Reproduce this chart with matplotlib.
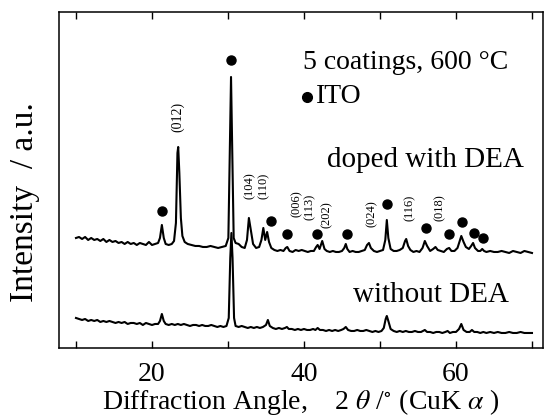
import matplotlib
matplotlib.use("Agg")
import matplotlib.pyplot as plt

plt.rcParams['font.family'] = ['Liberation Serif', 'DejaVu Serif']
plt.rcParams['mathtext.fontset'] = 'stix'

# Curva superior: dopada con DEA (2theta, intensidad a.u.)
x_doped = [10.0, 10.4, 10.8, 11.2, 11.6, 12.0, 12.4, 12.8, 13.2, 13.6, 14.0, 14.4, 14.8, 15.2, 15.6,
           16.0, 16.4, 16.8, 17.2, 17.6, 18.0, 18.4, 18.8, 19.2, 19.6, 20.0, 20.4, 20.8, 21.05, 21.3,
           21.55, 21.8, 22.2, 22.6, 22.9, 23.15, 23.35, 23.45, 23.6, 23.8, 24.0, 24.3, 24.7, 25.2, 25.7,
           26.2, 26.7, 27.2, 27.7, 28.2, 28.7, 29.2, 29.7, 30.05, 30.25, 30.4, 30.55, 30.75, 31.0, 31.4,
           31.8, 32.2, 32.5, 32.75, 33.0, 33.3, 33.7, 34.1, 34.4, 34.65, 34.9, 35.15, 35.4, 35.7, 36.1,
           36.5, 36.9, 37.3, 37.6, 37.8, 38.1, 38.5, 38.9, 39.3, 39.7, 40.1, 40.5, 40.9, 41.3, 41.6,
           41.8, 42.05, 42.4, 42.7, 43.0, 43.4, 43.8, 44.2, 44.6, 45.0, 45.3, 45.5, 45.7, 46.0, 46.4,
           46.8, 47.2, 47.6, 48.0, 48.3, 48.55, 48.8, 49.2, 49.6, 50.0, 50.4, 50.7, 50.9, 51.1, 51.4,
           51.8, 52.2, 52.6, 53.0, 53.3, 53.45, 53.7, 54.0, 54.4, 54.8, 55.2, 55.6, 55.9, 56.2, 56.6,
           57.0, 57.3, 57.6, 58.0, 58.4, 58.8, 59.1, 59.4, 59.8, 60.2, 60.5, 60.7, 61.0, 61.3, 61.7,
           62.0, 62.25, 62.5, 62.9, 63.2, 63.45, 63.7, 64.0, 64.5, 65.0, 65.5, 66.0, 66.5, 67.0, 67.5,
           68.0, 68.5, 69.0, 69.5, 70.0]
i_doped = [110, 111, 109, 111, 108, 110, 108, 109, 107, 109, 106, 108, 106, 107, 105,
           106, 104, 106, 104, 105, 103, 105, 104, 103, 106, 103, 104, 105, 110, 123,
           110, 104, 103, 104, 107, 125, 195, 201, 175, 130, 112, 106, 104, 103, 102,
           102, 101, 101, 102, 101, 100, 101, 102, 110, 200, 271, 200, 110, 105, 104,
           101, 100, 108, 130, 118, 104, 100, 101, 108, 120, 108, 116, 106, 100, 98,
           97, 98, 97, 100, 101, 97, 96, 98, 97, 98, 97, 96, 97, 97, 101,
           103, 99, 107, 99, 97, 96, 97, 96, 96, 97, 100, 104, 99, 96, 97,
           96, 96, 97, 98, 103, 105, 100, 97, 96, 97, 98, 108, 128, 110, 99,
           97, 97, 98, 100, 107, 109, 102, 98, 96, 97, 96, 100, 107, 102, 97,
           99, 101, 98, 97, 96, 99, 100, 97, 97, 100, 107, 112, 106, 101, 99,
           102, 105, 100, 97, 97, 99, 97, 96, 97, 96, 96, 97, 96, 95, 97,
           96, 95, 97, 96, 95]

# Curva inferior: sin DEA
x_plain = [10.0, 10.4, 10.8, 11.2, 11.6, 12.0, 12.4, 12.8, 13.2, 13.6, 14.0, 14.4, 14.8, 15.2, 15.6,
           16.0, 16.4, 16.8, 17.2, 17.6, 18.0, 18.4, 18.8, 19.2, 19.6, 20.0, 20.4, 20.8, 21.05, 21.3,
           21.55, 21.8, 22.2, 22.6, 23.0, 23.4, 23.8, 24.2, 24.6, 25.0, 25.4, 25.8, 26.2, 26.6, 27.0,
           27.4, 27.8, 28.2, 28.6, 29.0, 29.4, 29.8, 30.1, 30.3, 30.45, 30.6, 30.8, 31.0, 31.4, 31.8,
           32.2, 32.6, 33.0, 33.4, 33.8, 34.2, 34.6, 35.0, 35.25, 35.5, 35.9, 36.3, 36.7, 37.1, 37.5,
           37.75, 38.0, 38.4, 38.8, 39.2, 39.6, 40.0, 40.4, 40.8, 41.2, 41.5, 41.8, 42.1, 42.5, 42.9,
           43.3, 43.7, 44.1, 44.5, 44.9, 45.2, 45.5, 45.8, 46.2, 46.6, 47.0, 47.4, 47.8, 48.2, 48.6,
           49.0, 49.4, 49.8, 50.2, 50.5, 50.75, 50.9, 51.1, 51.4, 51.8, 52.2, 52.6, 53.0, 53.4, 53.8,
           54.2, 54.6, 55.0, 55.4, 55.9, 56.2, 56.6, 57.0, 57.4, 57.8, 58.2, 58.6, 58.9, 59.2, 59.6,
           60.0, 60.4, 60.7, 61.0, 61.4, 61.8, 62.1, 62.4, 62.8, 63.2, 63.6, 64.0, 64.5, 65.0, 65.5,
           66.0, 66.5, 67.0, 67.5, 68.0, 68.5, 69.0, 69.5, 70.0]
i_plain = [30, 29, 28, 29, 27, 28, 27, 28, 26, 27, 26, 27, 26, 25, 26,
           25, 26, 24, 25, 25, 24, 25, 23, 25, 24, 23, 24, 24, 27, 34,
           27, 24, 23, 24, 23, 24, 23, 24, 23, 22, 23, 23, 22, 23, 22,
           22, 23, 22, 21, 22, 21, 22, 30, 90, 115, 90, 30, 22, 21, 22,
           21, 20, 21, 20, 21, 20, 21, 23, 28, 22, 20, 19, 20, 19, 20,
           21, 19, 19, 18, 19, 18, 19, 18, 18, 19, 18, 20, 18, 18, 17,
           18, 17, 18, 17, 18, 19, 21, 18, 17, 17, 18, 17, 17, 18, 17,
           16, 17, 16, 17, 20, 29, 32, 27, 19, 17, 16, 17, 16, 17, 16,
           16, 17, 16, 16, 18, 16, 16, 15, 16, 16, 15, 16, 17, 15, 16,
           16, 19, 24, 18, 16, 16, 18, 16, 16, 15, 16, 15, 16, 15, 16,
           15, 15, 16, 15, 15, 16, 15, 15, 15]

# Picos de ITO marcados con puntos
ito_x = [21.3, 30.4, 35.7, 37.7, 41.7, 45.6, 50.9, 56.1, 59.1, 60.8, 62.4, 63.6]
ito_y = [137, 288, 127, 114, 114, 114, 144, 120, 114, 126, 115, 110]

# Indices de Miller
hkl_labels = ['(012)', '(104)', '(110)', '(006)', '(113)', '(202)', '(024)', '(116)', '(018)']
hkl_x = [23.4, 32.9, 34.7, 39.1, 40.8, 43.0, 48.9, 53.9, 57.9]
hkl_y = [231, 162, 162, 144, 141, 133, 134, 140, 140]

ticks = [10, 20, 30, 40, 50, 60, 70]
tick_labels = ['', '20', '', '40', '', '60', '']

fig = plt.figure(figsize=(5.46, 4.19), dpi=100)
ax = fig.add_axes([0.108, 0.1695, 0.8865, 0.8019])

ax.plot(x_doped, i_doped, color='black', lw=1.5)
ax.plot(x_plain, i_plain, color='black', lw=1.5)
ax.plot(ito_x, ito_y, 'o', color='black', ms=6.5)

for lab, xx, yy in zip(hkl_labels, hkl_x, hkl_y):
    fs = 10 if lab == '(012)' else 9
    ax.text(xx, yy, lab, rotation=90, ha='center', va='center', fontsize=fs)

ax.text(39.9, 285, '5 coatings, 600 °C', fontsize=20, va='center', ha='left')
ax.plot([40.4], [251], 'o', color='black', ms=7)
ax.text(41.6, 251, 'ITO', fontsize=20, va='center', ha='left')
ax.text(43.0, 188, 'doped with DEA', fontsize=21, va='center', ha='left')
ax.text(46.4, 53, 'without DEA', fontsize=21, va='center', ha='left')

ax.set_xlim(7.76, 71.45)
ax.set_ylim(0, 336)
ax.set_xticks(ticks)
ax.set_xticklabels(tick_labels, fontsize=20)
ax.set_yticks([])
ax.tick_params(axis='x', direction='in', top=True, length=5, width=1, pad=10)
for s in ax.spines.values():
    s.set_linewidth(1.1)

ax.set_xlabel('Diffraction Angle,    2 $\\theta$ /$^{\\circ}$ (CuK $\\alpha$ )', fontsize=20, labelpad=0)
ax.set_ylabel('Intensity  / a.u.', fontsize=24)
ax.yaxis.set_label_coords(-0.04, 0.435)

fig.savefig('out.png', dpi=100)
